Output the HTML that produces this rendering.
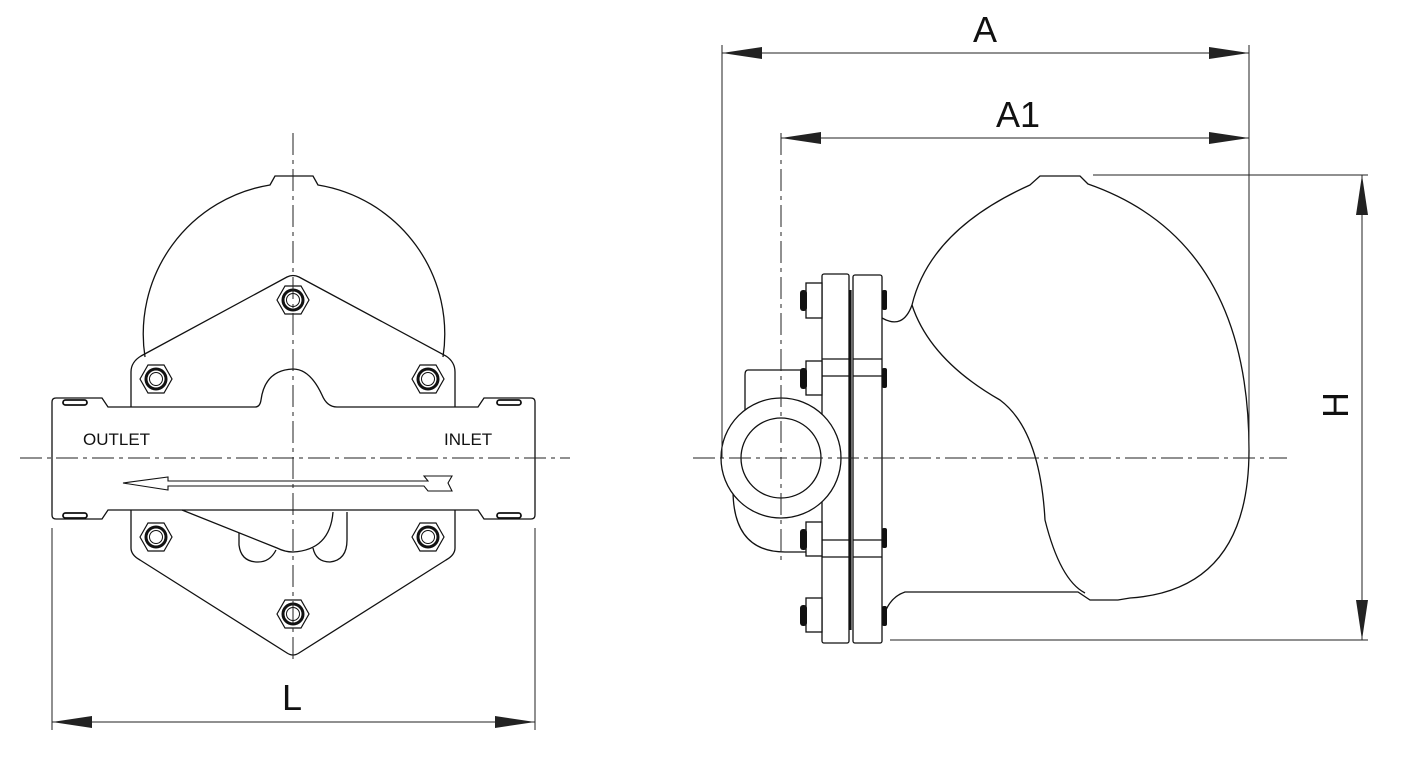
<!DOCTYPE html>
<html><head><meta charset="utf-8"><style>
html,body{margin:0;padding:0;background:#fff}
svg{display:block}
text{font-family:"Liberation Sans",sans-serif;fill:#111}
</style></head><body>
<svg width="1416" height="766" viewBox="0 0 1416 766" xmlns="http://www.w3.org/2000/svg">
<defs>
<marker id="ar" viewBox="0 0 40 12" refX="40" refY="6" markerWidth="40" markerHeight="12" markerUnits="userSpaceOnUse" orient="auto-start-reverse"><path d="M0,0 L40,6 L0,12 Z" fill="#222"/></marker>
<g id="nut"><polygon points="-16,0 -8,-14 8,-14 16,0 8,14 -8,14" fill="#fff" stroke="#111" stroke-width="1.2"/><circle r="10" fill="none" stroke="#111" stroke-width="3"/><circle r="6.5" fill="none" stroke="#111" stroke-width="1"/></g>
</defs>
<g fill="none" stroke="#111" stroke-width="1.3">
<!-- LEFT VIEW -->
<path d="M145,357 A151,151 0 0 1 270,185 L275,176 L313,176 L318,185 A151,151 0 0 1 443,357"/>
<path d="M131,407 L131,372 Q131,362 141,356 L287,277 Q293,274 299,277 L446,356 Q455,362 455,372 L455,407"/>
<path d="M52,402 Q52,398 56,398 L102,398 L108,407 L255,407 Q260,407 261,400 Q265,370 293,369 Q310,369 322,395 Q327,407 337,407 L478,407 L484,398 L531,398 Q535,398 535,402 L535,515 Q535,519 531,519 L484,519 L478,510 L345,510 L108,510 L102,519 L56,519 Q52,519 52,515 Z"/>
<path d="M131,510 L131,548 Q131,555 140,560 L287,653 Q293,657 299,653 L446,560 Q455,555 455,548 L455,510"/>
<path d="M182,510 L277,548 Q285,552 293,552 Q330,550 333,512"/>
<path d="M239,533 L239,545 Q241,562 258,562 Q270,562 276,550"/>
<path d="M313,548 Q316,562 330,562 Q347,560 347,540 L347,512"/>
<g stroke-width="1.8"><rect x="63" y="400" width="24" height="5" rx="2.5"/><rect x="497" y="400" width="24" height="5" rx="2.5"/><rect x="63" y="513" width="24" height="5" rx="2.5"/><rect x="497" y="513" width="24" height="5" rx="2.5"/></g>
<path d="M123,483 L168,477 L168,481 L428,481 L424,476 L452,476 L448,483 L452,491 L428,491 L424,486 L168,486 L168,490 Z" stroke-width="1.1"/>
</g>
<use href="#nut" x="293" y="300"/><use href="#nut" x="156" y="379"/><use href="#nut" x="428" y="379"/>
<use href="#nut" x="156" y="537"/><use href="#nut" x="428" y="537"/><use href="#nut" x="293" y="614"/>
<text x="83" y="445" font-size="17">OUTLET</text>
<text x="444" y="445" font-size="17">INLET</text>
<g stroke="#222" stroke-width="1" fill="none">
<path d="M20,458 H570" stroke-dasharray="22,5,4,5"/>
<path d="M293,133 V660" stroke-dasharray="22,5,4,5"/>
<path d="M52,528 V730 M535,528 V730"/>
<path d="M52,722 H535" marker-start="url(#ar)" marker-end="url(#ar)"/>
</g>
<text x="292" y="710" font-size="36" text-anchor="middle">L</text>

<!-- RIGHT VIEW -->
<g fill="none" stroke="#111" stroke-width="1.3">
<path d="M882,318 Q903,330 912,305 Q930,230 1030,185 L1040,176 L1080,176 L1088,184 Q1249,240 1249,450 Q1249,590 1130,598 L1118,600 L1090,600 L1078,592 L905,592 Q890,597 884,615"/>
<path d="M912,305 Q930,360 1000,400 Q1040,430 1045,520 Q1060,580 1085,593"/>
<path d="M813,370 L748,370 Q745,370 745,375 L745,414 M733,490 Q733,552 785,552 L808,552"/>
<rect x="822" y="274" width="27" height="369" rx="2" fill="#fff"/>
<rect x="853" y="275" width="29" height="368" rx="2" fill="#fff"/>
<path d="M822,359 H849 M822,376 H849 M853,359 H882 M853,376 H882 M822,540 H849 M822,557 H849 M853,540 H882 M853,557 H882"/>
<path d="M851,290 V630" stroke-width="1.2"/>
<circle cx="781" cy="458" r="60" fill="#fff"/>
<circle cx="781" cy="458" r="40"/>
<g fill="#fff"><rect x="806" y="283" width="16" height="35"/><rect x="806" y="361" width="16" height="34"/><rect x="806" y="522" width="16" height="34"/><rect x="806" y="598" width="16" height="34"/></g>
</g>
<g fill="#111"><rect x="800" y="290" width="7" height="21" rx="3"/><rect x="800" y="368" width="7" height="21" rx="3"/><rect x="800" y="529" width="7" height="21" rx="3"/><rect x="800" y="605" width="7" height="21" rx="3"/>
<rect x="882" y="290" width="5" height="20" rx="2"/><rect x="882" y="368" width="5" height="20" rx="2"/><rect x="882" y="528" width="5" height="20" rx="2"/><rect x="882" y="606" width="5" height="20" rx="2"/>
<rect x="849" y="290" width="2" height="340"/></g>
<g stroke="#222" stroke-width="1" fill="none">
<path d="M693,458 H1287" stroke-dasharray="22,5,4,5"/>
<path d="M781,133 V560" stroke-dasharray="22,5,4,5"/>
<path d="M722,45 V458 M1249,45 V450"/>
<path d="M722,53 H1249" marker-start="url(#ar)" marker-end="url(#ar)"/>
<path d="M781,138 H1249" marker-start="url(#ar)" marker-end="url(#ar)"/>
<path d="M1093,175 H1368 M890,640 H1368"/>
<path d="M1362,175 V640" marker-start="url(#ar)" marker-end="url(#ar)"/>
</g>
<text x="985" y="42" font-size="36" text-anchor="middle">A</text>
<text x="1018" y="127" font-size="36" text-anchor="middle">A1</text>
<text x="0" y="0" font-size="36" text-anchor="middle" transform="translate(1348,405) rotate(-90)">H</text>
</svg>
</body></html>
